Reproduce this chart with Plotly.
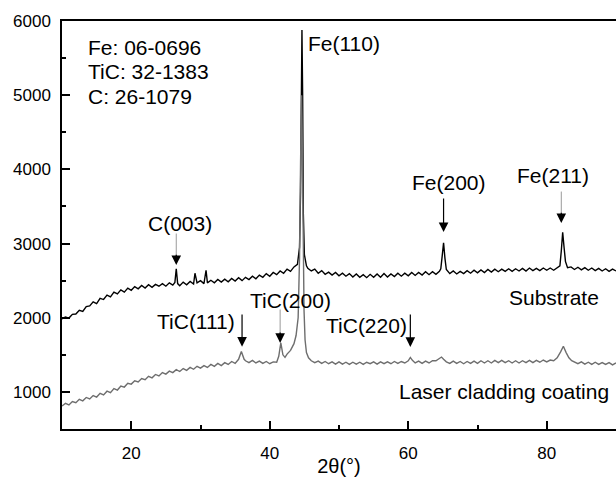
import plotly.graph_objects as go

# ---------------- data ----------------
substrate_x = [
    10.0, 10.5, 11.0, 11.5, 12.0, 12.5, 13.0, 13.5, 14.0, 14.5,
    15.0, 15.5, 16.0, 16.5, 17.0, 17.5, 18.0, 18.5, 19.0, 19.5,
    20.0, 20.5, 21.0, 21.5, 22.0, 22.5, 23.0, 23.5, 24.0, 24.5,
    25.0, 25.5, 26.0, 26.3, 26.5, 26.7, 27.0, 27.5, 28.0, 28.5,
    29.0, 29.2, 29.5, 30.0, 30.5, 30.8, 31.0, 31.5, 32.0, 32.5,
    33.0, 33.5, 34.0, 34.5, 35.0, 35.5, 36.0, 36.5, 37.0, 37.5,
    38.0, 38.5, 39.0, 39.5, 40.0, 40.5, 41.0, 41.5, 42.0, 42.5,
    43.0, 43.5, 44.0, 44.3, 44.45, 44.55, 44.65, 44.75, 44.85, 45.0,
    45.3, 45.5, 46.0, 46.5, 47.0, 47.5, 48.0, 48.5, 49.0, 49.5,
    50.0, 50.5, 51.0, 51.5, 52.0, 52.5, 53.0, 53.5, 54.0, 54.5,
    55.0, 55.5, 56.0, 56.5, 57.0, 57.5, 58.0, 58.5, 59.0, 59.5,
    60.0, 60.5, 61.0, 61.5, 62.0, 62.5, 63.0, 63.5, 64.0, 64.5,
    64.7, 64.9, 65.1, 65.3, 65.5, 66.0, 66.5, 67.0, 67.5, 68.0,
    68.5, 69.0, 69.5, 70.0, 70.5, 71.0, 71.5, 72.0, 72.5, 73.0,
    73.5, 74.0, 74.5, 75.0, 75.5, 76.0, 76.5, 77.0, 77.5, 78.0,
    78.5, 79.0, 79.5, 80.0, 80.5, 81.0, 81.5, 81.9, 82.1, 82.3,
    82.5, 82.7, 83.0, 83.5, 84.0, 84.5, 85.0, 85.5, 86.0, 86.5,
    87.0, 87.5, 88.0, 88.5, 89.0, 89.5, 90.0,
]
substrate_y = [
    1985, 2010, 1995, 2045, 2050, 2100, 2085, 2150, 2160, 2215,
    2190, 2260, 2245, 2305, 2280, 2345, 2320, 2375, 2345, 2400,
    2370, 2420, 2390, 2435, 2400, 2445, 2410, 2450, 2425, 2460,
    2425, 2470, 2440, 2475, 2660, 2460, 2430, 2480, 2445, 2490,
    2455, 2600, 2470, 2500, 2460, 2640, 2470, 2505, 2470, 2515,
    2480, 2520, 2485, 2530, 2495, 2540, 2500, 2545, 2515, 2560,
    2525, 2575, 2545, 2595, 2560, 2610, 2580, 2630, 2600, 2655,
    2625, 2685, 2720, 2950, 3700, 5200, 5880, 5000, 3400, 2850,
    2700, 2665, 2630, 2655, 2600, 2635, 2585, 2615, 2575, 2610,
    2565, 2600, 2560, 2595, 2550, 2590, 2545, 2580, 2540, 2585,
    2545, 2590, 2545, 2595, 2550, 2590, 2555, 2600, 2560, 2600,
    2565, 2610, 2570, 2610, 2575, 2620, 2580, 2620, 2585, 2625,
    2660, 2830, 3010, 2800, 2650, 2595, 2630, 2590, 2625, 2595,
    2635, 2600, 2640, 2605, 2645, 2610, 2650, 2615, 2655, 2620,
    2655, 2625, 2660, 2625, 2660, 2630, 2665, 2630, 2670, 2635,
    2665, 2635, 2670, 2640, 2670, 2640, 2680, 2700, 2900, 3150,
    2950, 2760, 2675, 2685, 2650, 2680, 2645, 2675, 2640, 2670,
    2635, 2665, 2630, 2660, 2625, 2655, 2630,
]

coating_x = [
    10.0, 10.5, 11.0, 11.5, 12.0, 12.5, 13.0, 13.5, 14.0, 14.5,
    15.0, 15.5, 16.0, 16.5, 17.0, 17.5, 18.0, 18.5, 19.0, 19.5,
    20.0, 20.5, 21.0, 21.5, 22.0, 22.5, 23.0, 23.5, 24.0, 24.5,
    25.0, 25.5, 26.0, 26.5, 27.0, 27.5, 28.0, 28.5, 29.0, 29.5,
    30.0, 30.5, 31.0, 31.5, 32.0, 32.5, 33.0, 33.5, 34.0, 34.5,
    35.0, 35.5, 35.9, 36.3, 36.5, 37.0, 37.5, 38.0, 38.5, 39.0,
    39.5, 40.0, 40.5, 41.0, 41.3, 41.6, 41.9, 42.2, 42.5, 43.0,
    43.5, 43.8, 44.1, 44.3, 44.45, 44.6, 44.7, 44.8, 44.95, 45.1,
    45.3, 45.6, 46.0, 46.5, 47.0, 47.5, 48.0, 48.5, 49.0, 49.5,
    50.0, 50.5, 51.0, 51.5, 52.0, 52.5, 53.0, 53.5, 54.0, 54.5,
    55.0, 55.5, 56.0, 56.5, 57.0, 57.5, 58.0, 58.5, 59.0, 59.5,
    60.0, 60.3, 60.6, 61.0, 61.5, 62.0, 62.5, 63.0, 63.5, 64.0,
    64.5, 64.8, 65.1, 65.5, 66.0, 66.5, 67.0, 67.5, 68.0, 68.5,
    69.0, 69.5, 70.0, 70.5, 71.0, 71.5, 72.0, 72.5, 73.0, 73.5,
    74.0, 74.5, 75.0, 75.5, 76.0, 76.5, 77.0, 77.5, 78.0, 78.5,
    79.0, 79.5, 80.0, 80.5, 81.0, 81.5, 82.0, 82.4, 82.8, 83.2,
    83.6, 84.0, 84.5, 85.0, 85.5, 86.0, 86.5, 87.0, 87.5, 88.0,
    88.5, 89.0, 89.5, 90.0,
]
coating_y = [
    810, 845, 825, 870, 855, 900, 880, 925, 905, 950,
    930, 980, 960, 1010, 990, 1045, 1025, 1080, 1065, 1115,
    1105, 1150, 1135, 1180, 1165, 1210, 1190, 1235, 1215, 1260,
    1240, 1280, 1260, 1300, 1275, 1315, 1290, 1330, 1305, 1345,
    1320, 1355, 1330, 1370, 1345, 1385, 1355, 1395, 1370, 1410,
    1385, 1440, 1545, 1440, 1420, 1395, 1425, 1390, 1415, 1385,
    1410, 1380, 1405, 1400, 1480, 1660, 1500, 1465, 1510, 1560,
    1650, 1760, 2000, 2800, 4100, 5000, 4300, 3000, 2100, 1700,
    1530, 1460, 1420, 1395, 1415, 1385, 1410, 1380, 1405, 1375,
    1405, 1375, 1400, 1370, 1400, 1375, 1400, 1370, 1400, 1380,
    1405, 1375, 1405, 1380, 1405, 1380, 1410, 1385, 1410, 1390,
    1420, 1465, 1425, 1390, 1415, 1385, 1415, 1390, 1420, 1420,
    1450, 1470, 1440, 1405, 1385, 1415, 1385, 1410, 1380, 1410,
    1385, 1415, 1385, 1420, 1390, 1420, 1390, 1425, 1395, 1425,
    1395, 1420, 1390, 1420, 1390, 1420, 1395, 1425, 1395, 1425,
    1400, 1430, 1405, 1430, 1420, 1460, 1540, 1615, 1530, 1460,
    1420, 1405, 1380, 1405, 1375, 1400, 1370, 1400, 1370, 1395,
    1370, 1395, 1365, 1390,
]

x_ticks = [20, 40, 60, 80]
y_ticks = [1000, 2000, 3000, 4000, 5000, 6000]

pdf_cards = ["Fe: 06-0696", "TiC: 32-1383", "C: 26-1079"]
card_y = [5646, 5323, 4987]

# peak labels: text, text x, text y, arrow x, arrow tail y, arrow tip y, gray shaft
peak_labels = ["C(003)", "TiC(111)", "TiC(200)", "TiC(220)", "Fe(200)", "Fe(211)"]
peak_text_x = [27.1, 29.4, 43.0, 53.9, 65.9, 80.9]
peak_text_y = [3273, 1943, 2239, 1902, 3828, 3922]
peak_arrow_x = [26.5, 36.0, 41.5, 60.3, 65.1, 82.1]
peak_arrow_tail = [3155, 2064, 2131, 2064, 3626, 3721]
peak_arrow_tip = [2710, 1610, 1660, 1606, 3155, 3276]
peak_gray_shaft = [True, False, True, False, False, True]

FONT = "Liberation Sans, Arial, sans-serif"

fig = go.Figure()
fig.add_trace(go.Scatter(x=substrate_x, y=substrate_y, mode="lines",
                         line=dict(color="#000000", width=1.4), name="Substrate"))
fig.add_trace(go.Scatter(x=coating_x, y=coating_y, mode="lines",
                         line=dict(color="#6e6e6e", width=1.4), name="Laser cladding coating"))

ann = []
for t, yy in zip(pdf_cards, card_y):
    ann.append(dict(x=13.4, y=yy, text=t, showarrow=False, xanchor="left", yanchor="middle",
                    font=dict(size=21, color="black", family=FONT)))
ann.append(dict(x=45.2, y=5700, text="Fe(110)", showarrow=False, xanchor="left", yanchor="middle",
                font=dict(size=21, color="black", family=FONT)))
for t, tx, ty, axx, tail, tip, gray in zip(peak_labels, peak_text_x, peak_text_y, peak_arrow_x,
                                            peak_arrow_tail, peak_arrow_tip, peak_gray_shaft):
    ann.append(dict(x=tx, y=ty, text=t, showarrow=False, xanchor="center", yanchor="middle",
                    font=dict(size=21, color="black", family=FONT)))
    if gray:
        ann.append(dict(x=axx, y=tip + 120, ax=axx, ay=tail, axref="x", ayref="y", text="",
                        showarrow=True, arrowhead=0, arrowwidth=1, arrowcolor="#9a9a9a",
                        standoff=0, startstandoff=0))
        ann.append(dict(x=axx, y=tip, ax=axx, ay=tip + 160, axref="x", ayref="y", text="",
                        showarrow=True, arrowhead=2, arrowsize=1.6, arrowwidth=1.2,
                        arrowcolor="black", standoff=0, startstandoff=0))
    else:
        ann.append(dict(x=axx, y=tip, ax=axx, ay=tail, axref="x", ayref="y", text="",
                        showarrow=True, arrowhead=2, arrowsize=1.6, arrowwidth=1.2,
                        arrowcolor="black", standoff=0, startstandoff=0))
ann.append(dict(x=81.0, y=2266, text="Substrate", showarrow=False, xanchor="center", yanchor="middle",
                font=dict(size=21, color="black", family=FONT)))
ann.append(dict(x=73.8, y=1000, text="Laser cladding coating", showarrow=False, xanchor="center",
                yanchor="middle", font=dict(size=21, color="black", family=FONT)))

fig.update_layout(
    width=616, height=477,
    margin=dict(l=62, r=0, t=21, b=48),
    paper_bgcolor="white", plot_bgcolor="white",
    showlegend=False,
    font=dict(family=FONT, color="black"),
    annotations=ann,
)
fig.update_xaxes(
    range=[10, 90], tickvals=x_ticks, ticks="inside", ticklen=8, tickwidth=1.5,
    tickcolor="black", showline=True, linecolor="black", linewidth=1.5, mirror=True,
    showgrid=False, zeroline=False, tickfont=dict(size=17, family=FONT, color="black"),
    ticklabelstandoff=8,
    minor=dict(dtick=10, tick0=0, ticks="inside", ticklen=4, tickwidth=1.5, tickcolor="black", showgrid=False),
    title=dict(text="2θ(°)", font=dict(size=20, family=FONT, color="black"), standoff=0),
    automargin=False,
)
fig.update_yaxes(
    range=[500, 6000], tickvals=y_ticks, ticks="inside", ticklen=8, tickwidth=1.5,
    tickcolor="black", showline=True, linecolor="black", linewidth=1.5, mirror=False,
    showgrid=False, zeroline=False, tickfont=dict(size=17, family=FONT, color="black"),
    ticklabelstandoff=6,
    minor=dict(dtick=500, tick0=0, ticks="inside", ticklen=4, tickwidth=1.5, tickcolor="black", showgrid=False),
    automargin=False,
)

fig.write_html("out.html")
